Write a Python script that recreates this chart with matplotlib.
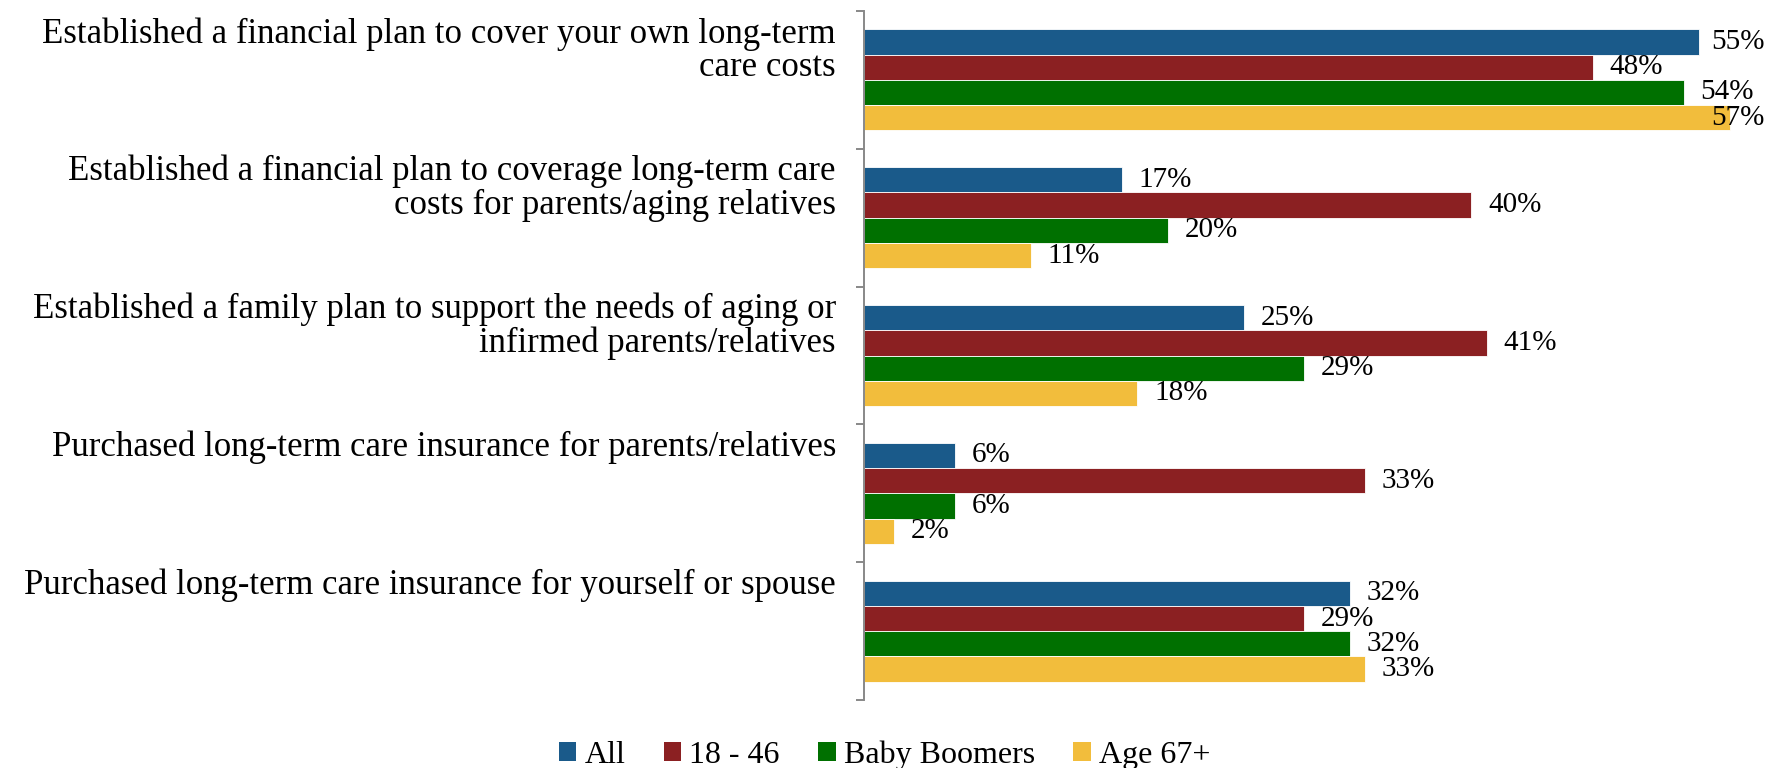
import numpy as np
import matplotlib
matplotlib.use('Agg')
import matplotlib.pyplot as plt
import matplotlib.transforms as mtransforms
from matplotlib.patches import Patch

plt.rcParams['font.family'] = ['Liberation Serif', 'DejaVu Serif']

categories = [
    'Established a financial plan to cover your own long-term\ncare costs',
    'Established a financial plan to coverage long-term care\ncosts for parents/aging relatives',
    'Established a family plan to support the needs of aging or\ninfirmed parents/relatives',
    'Purchased long-term care insurance for parents/relatives',
    'Purchased long-term care insurance for yourself or spouse',
]
series_names = ['All', '18 - 46', 'Baby Boomers', 'Age 67+']
all_vals = [55, 17, 25, 6, 32]
young_vals = [48, 40, 41, 33, 29]
boomer_vals = [54, 20, 29, 6, 32]
senior_vals = [57, 11, 18, 2, 33]
colors = ['#1a5a8a', '#8b2022', '#007000', '#f2bd3c']

series = [all_vals, young_vals, boomer_vals, senior_vals]

fig = plt.figure(figsize=(17.69, 7.68), dpi=100)
ax = fig.add_axes([0.4884, 0.0885, 0.5116, 0.8972])

n = len(categories)
y = np.arange(n)
h = 0.183
labels = []
for k, vals in enumerate(series):
    pos = y + (k - 1.5) * h
    ax.barh(pos, vals, height=h, color=colors[k], edgecolor='white', linewidth=0.6)
    for p, v in zip(pos, vals):
        t = ax.annotate(f'{v}%', xy=(v, p), xytext=(12, 0), textcoords='offset points',
                        ha='left', va='center', fontsize=21)
        labels.append(t)

ax.set_xlim(0, 59.6)
ax.set_ylim(n - 0.5, -0.5)
ax.set_xticks([])
ax.set_yticks(np.arange(-0.5, n, 1.0))
ax.set_yticklabels([])
ax.tick_params(axis='y', direction='out', length=6, width=1.4, color='#888888')
for s in ['top', 'right', 'bottom']:
    ax.spines[s].set_visible(False)
ax.spines['left'].set_color('#888888')
ax.spines['left'].set_linewidth(1.4)

# category labels sit at the top of each band, right aligned left of the axis
trans = mtransforms.blended_transform_factory(ax.transAxes, ax.transData)
trans = trans + mtransforms.ScaledTranslation(-28 / 100, 0, fig.dpi_scale_trans)
for i, c in enumerate(categories):
    ax.text(0, i - 0.5 + 0.045, c, transform=trans, ha='right', va='top',
            fontsize=25, linespacing=1.0, multialignment='right')

# keep value labels inside the figure
fig.canvas.draw()
r = fig.canvas.get_renderer()
W = fig.bbox.width
for t in labels:
    bb = t.get_window_extent(r)
    if bb.x1 > W - 4:
        shift = (bb.x1 - (W - 4)) * 72 / fig.dpi
        x0, y0 = t.xyann
        t.xyann = (x0 - shift, y0)

handles = [Patch(facecolor=c, edgecolor='none') for c in colors]
fig.legend(handles, series_names, loc='lower center', ncol=4, frameon=False,
           fontsize=23, handlelength=0.55, handleheight=0.55, handletextpad=0.25,
           columnspacing=1.2, bbox_to_anchor=(0.5, -0.04))

fig.savefig('out.png', dpi=100)
